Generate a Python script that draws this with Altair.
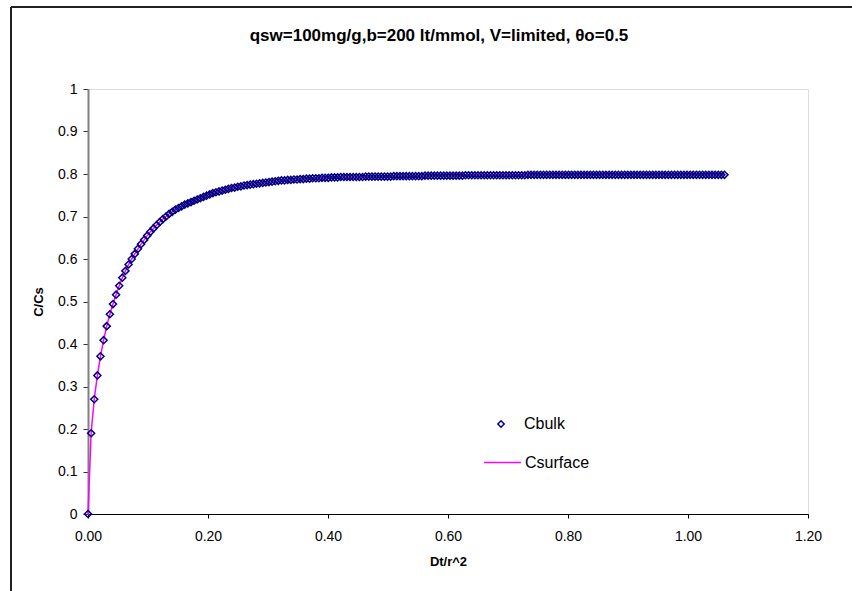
import altair as alt
import pandas as pd

# Dimensionless time Dt/r^2
x_vals = [
    0, 0.0052, 0.0104, 0.0156, 0.0208, 0.026, 0.0312, 0.0364, 0.0416, 0.0468,
    0.052, 0.0572, 0.0624, 0.0676, 0.0728, 0.078, 0.0832, 0.0884, 0.0936, 0.0988,
    0.104, 0.1092, 0.1144, 0.1196, 0.1248, 0.13, 0.1352, 0.1404, 0.1456, 0.1508,
    0.156, 0.1612, 0.1664, 0.1716, 0.1768, 0.182, 0.1872, 0.1924, 0.1976, 0.2028,
    0.208, 0.2132, 0.2184, 0.2236, 0.2288, 0.234, 0.2392, 0.2444, 0.2496, 0.2548,
    0.26, 0.2652, 0.2704, 0.2756, 0.2808, 0.286, 0.2912, 0.2964, 0.3016, 0.3068,
    0.312, 0.3172, 0.3224, 0.3276, 0.3328, 0.338, 0.3432, 0.3484, 0.3536, 0.3588,
    0.364, 0.3692, 0.3744, 0.3796, 0.3848, 0.39, 0.3952, 0.4004, 0.4056, 0.4108,
    0.416, 0.4212, 0.4264, 0.4316, 0.4368, 0.442, 0.4472, 0.4524, 0.4576, 0.4628,
    0.468, 0.4732, 0.4784, 0.4836, 0.4888, 0.494, 0.4992, 0.5044, 0.5096, 0.5148,
    0.52, 0.5252, 0.5304, 0.5356, 0.5408, 0.546, 0.5512, 0.5564, 0.5616, 0.5668,
    0.572, 0.5772, 0.5824, 0.5876, 0.5928, 0.598, 0.6032, 0.6084, 0.6136, 0.6188,
    0.624, 0.6292, 0.6344, 0.6396, 0.6448, 0.65, 0.6552, 0.6604, 0.6656, 0.6708,
    0.676, 0.6812, 0.6864, 0.6916, 0.6968, 0.702, 0.7072, 0.7124, 0.7176, 0.7228,
    0.728, 0.7332, 0.7384, 0.7436, 0.7488, 0.754, 0.7592, 0.7644, 0.7696, 0.7748,
    0.78, 0.7852, 0.7904, 0.7956, 0.8008, 0.806, 0.8112, 0.8164, 0.8216, 0.8268,
    0.832, 0.8372, 0.8424, 0.8476, 0.8528, 0.858, 0.8632, 0.8684, 0.8736, 0.8788,
    0.884, 0.8892, 0.8944, 0.8996, 0.9048, 0.91, 0.9152, 0.9204, 0.9256, 0.9308,
    0.936, 0.9412, 0.9464, 0.9516, 0.9568, 0.962, 0.9672, 0.9724, 0.9776, 0.9828,
    0.988, 0.9932, 0.9984, 1.0036, 1.0088, 1.014, 1.0192, 1.0244, 1.0296, 1.0348,
    1.04, 1.0452, 1.0504, 1.0556, 1.0608,
]

cbulk = [
    0, 0.190, 0.270, 0.326, 0.371, 0.409, 0.442, 0.470, 0.494, 0.516,
    0.537, 0.556, 0.572, 0.587, 0.600, 0.612, 0.624, 0.635, 0.645, 0.655,
    0.664, 0.672, 0.680, 0.687, 0.694, 0.700, 0.706, 0.711, 0.716, 0.720,
    0.724, 0.728, 0.731, 0.734, 0.737, 0.740, 0.743, 0.746, 0.749, 0.752,
    0.755, 0.757, 0.759, 0.761, 0.763, 0.765, 0.767, 0.768, 0.770, 0.771,
    0.773, 0.774, 0.775, 0.776, 0.777, 0.778, 0.779, 0.780, 0.781, 0.782,
    0.783, 0.784, 0.785, 0.785, 0.786, 0.786, 0.787, 0.787, 0.788, 0.788,
    0.789, 0.789, 0.790, 0.790, 0.790, 0.791, 0.791, 0.791, 0.792, 0.792,
    0.792, 0.793, 0.793, 0.793, 0.793, 0.793, 0.793, 0.793, 0.793, 0.794,
    0.794, 0.794, 0.794, 0.794, 0.794, 0.794, 0.794, 0.794, 0.795, 0.795,
    0.795, 0.795, 0.795, 0.795, 0.795, 0.795, 0.795, 0.795, 0.796, 0.796,
    0.796, 0.796, 0.796, 0.796, 0.796, 0.796, 0.796, 0.796, 0.796, 0.796,
    0.796, 0.797, 0.797, 0.797, 0.797, 0.797, 0.797, 0.797, 0.797, 0.797,
    0.797, 0.797, 0.797, 0.797, 0.797, 0.797, 0.797, 0.797, 0.797, 0.797,
    0.797, 0.798, 0.798, 0.798, 0.798, 0.798, 0.798, 0.798, 0.798, 0.798,
    0.798, 0.798, 0.798, 0.798, 0.798, 0.798, 0.798, 0.798, 0.798, 0.798,
    0.798, 0.798, 0.798, 0.798, 0.798, 0.798, 0.798, 0.798, 0.798, 0.798,
    0.798, 0.798, 0.798, 0.798, 0.798, 0.798, 0.798, 0.798, 0.798, 0.798,
    0.798, 0.798, 0.798, 0.798, 0.798, 0.798, 0.798, 0.798, 0.798, 0.798,
    0.798, 0.798, 0.798, 0.798, 0.798, 0.798, 0.798, 0.798, 0.798, 0.798,
    0.798, 0.798, 0.798, 0.798, 0.798,
]

# Surface concentration coincides with the bulk markers in the picture
csurface = list(cbulk)

x_ticks = [0, 0.2, 0.4, 0.6, 0.8, 1.0, 1.2]
y_ticks = [0, 0.1, 0.2, 0.3, 0.4, 0.5, 0.6, 0.7, 0.8, 0.9, 1.0]

FONT = "Liberation Sans"

df_bulk = pd.DataFrame({"x": x_vals, "y": cbulk, "series": "Cbulk"})
df_surf = pd.DataFrame({"x": x_vals, "y": csurface, "series": "Csurface"})

x_enc = alt.X(
    "x:Q",
    scale=alt.Scale(domain=[0, 1.2], nice=False, zero=False),
    axis=alt.Axis(
        values=x_ticks, format=".2f", title="Dt/r^2", grid=False, labelFlush=False,
        domainColor="black", domainWidth=1, tickColor="black", tickSize=4,
        labelFont=FONT, labelFontSize=14, labelColor="black", labelPadding=11,
        titleFont=FONT, titleFontSize=13, titleFontWeight="bold", titleColor="black",
        titlePadding=12,
    ),
)
y_enc = alt.Y(
    "y:Q",
    scale=alt.Scale(domain=[0, 1], nice=False),
    axis=alt.Axis(
        values=y_ticks, format="~g", title="C/Cs", grid=False, labelFlush=False,
        domainColor="#808080", domainWidth=2, tickColor="#333333", tickSize=5,
        labelFont=FONT, labelFontSize=14, labelColor="black", labelPadding=6,
        titleFont=FONT, titleFontSize=13, titleFontWeight="bold", titleColor="black",
        titlePadding=12,
    ),
)

line = alt.Chart(df_surf).mark_line(strokeWidth=1.5).encode(
    x=x_enc,
    y=y_enc,
    stroke=alt.Stroke(
        "series:N",
        scale=alt.Scale(domain=["Csurface"], range=["#FF00FF"]),
        legend=alt.Legend(
            title=None, orient="none", legendX=395, legendY=354,
            symbolType="stroke", symbolSize=1369, symbolStrokeWidth=1.5,
            labelFont=FONT, labelFontSize=16, labelColor="black", labelOffset=3,
            padding=0,
        ),
    ),
)

points = alt.Chart(df_bulk).mark_point(
    shape="diamond", filled=False, color="#000080", size=50, strokeWidth=1.5, opacity=1
).encode(
    x=x_enc,
    y=y_enc,
    shape=alt.Shape(
        "series:N",
        scale=alt.Scale(domain=["Cbulk"], range=["diamond"]),
        legend=alt.Legend(
            title=None, orient="none", legendX=405, legendY=327,
            symbolStrokeColor="#000080", symbolFillColor="transparent",
            symbolStrokeWidth=1.5, symbolSize=40,
            labelFont=FONT, labelFontSize=16, labelColor="black", labelOffset=15,
            padding=0,
        ),
    ),
)

frame_left = alt.Chart(df_bulk.head(1)).mark_rule(color="#222222", strokeWidth=2).encode(
    x=alt.value(-77), y=alt.value(-82), y2=alt.value(600)
)
frame_top = alt.Chart(df_bulk.head(1)).mark_rule(color="#222222", strokeWidth=2).encode(
    x=alt.value(-77), x2=alt.value(800), y=alt.value(-82)
)

chart = alt.layer(frame_left, frame_top, line, points).resolve_scale(
    stroke="independent", shape="independent"
).properties(
    width=720,
    height=425,
    title=alt.TitleParams(
        "qsw=100mg/g,b=200 lt/mmol, V=limited, θo=0.5",
        font=FONT, fontSize=17, fontWeight="bold", color="black",
        anchor="middle", offset=0, dy=39, dx=-9, frame="group",
    ),
    autosize=alt.AutoSizeParams(type="none"),
    padding={"left": 88, "top": 89, "right": 44, "bottom": 77},
).configure_view(stroke=None).configure(background="white")

chart.save("out.html", embed_options={"renderer": "svg", "actions": False})
